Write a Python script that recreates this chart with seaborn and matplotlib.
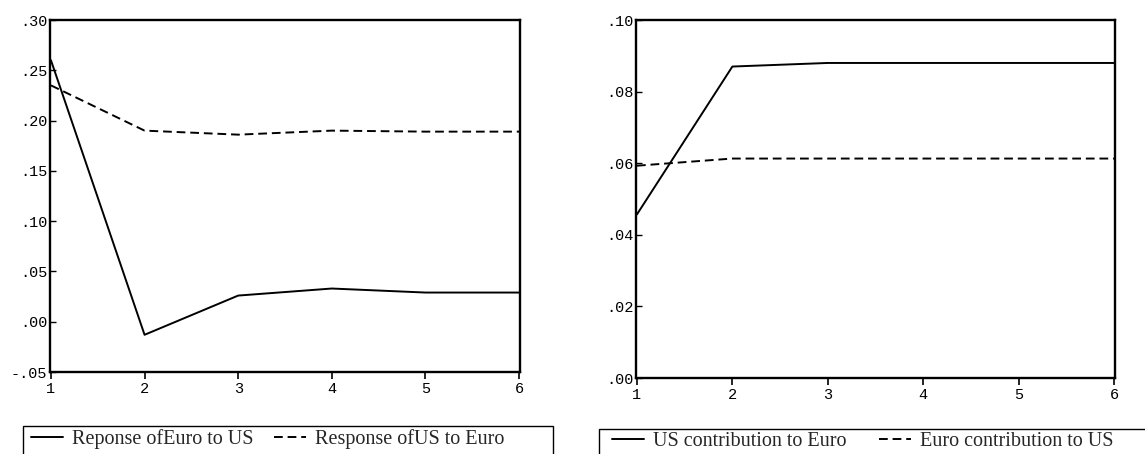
import numpy as np
import pandas as pd
import seaborn as sns
import matplotlib.pyplot as plt
from matplotlib.patches import Rectangle

periods = [1, 2, 3, 4, 5, 6]
euro_to_us = [0.260, -0.013, 0.026, 0.033, 0.029, 0.029]
us_to_euro = [0.235, 0.190, 0.186, 0.190, 0.189, 0.189]
us_contrib_euro = [0.0457, 0.0870, 0.0880, 0.0880, 0.0880, 0.0880]
euro_contrib_us = [0.0593, 0.0613, 0.0613, 0.0613, 0.0613, 0.0613]

left_labels = ['Reponse ofEuro to US', 'Response ofUS to Euro']
right_labels = ['US contribution to Euro', 'Euro contribution to US']
left_yticks = [-0.05, 0.0, 0.05, 0.10, 0.15, 0.20, 0.25, 0.30]
left_yticklabels = ['-.05', '.00', '.05', '.10', '.15', '.20', '.25', '.30']
right_yticks = [0.0, 0.02, 0.04, 0.06, 0.08, 0.10]
right_yticklabels = ['.00', '.02', '.04', '.06', '.08', '.10']

sns.set_style('white')
plt.rcParams['font.family'] = ['Liberation Mono', 'DejaVu Sans']

W, H = 1145, 454
fig = plt.figure(figsize=(W / 100, H / 100), dpi=100)
ax1 = fig.add_axes([50 / W, 82 / H, 470 / W, 352 / H])
ax2 = fig.add_axes([636 / W, 76 / H, 479 / W, 358 / H])

DASH = (4.5, 2.5)


def draw_panel(ax, s1, s2, labels, yticks, yticklabels, ylim, box, anchor, colspace):
    df = pd.DataFrame({'period': periods, 'a': s1, 'b': s2})
    sns.lineplot(data=df, x='period', y='a', ax=ax, color='black', lw=1.4, label=labels[0])
    sns.lineplot(data=df, x='period', y='b', ax=ax, color='black', lw=1.4, label=labels[1])
    ax.lines[1].set_dashes(DASH)
    ax.set_xlim(0.99, 6.01)
    ax.set_ylim(*ylim)
    ax.set_xticks(periods)
    ax.set_xticklabels([str(p) for p in periods])
    ax.set_yticks(yticks)
    ax.set_yticklabels(yticklabels)
    ax.set_xlabel('')
    ax.set_ylabel('')
    for s in ax.spines.values():
        s.set_visible(True)
        s.set_color('black')
        s.set_linewidth(1.7)
    ax.tick_params(axis='x', direction='out', length=5, width=1.2, pad=2,
                   labelsize=11, bottom=True, colors='black')
    ax.tick_params(axis='y', direction='in', length=4, width=1.0, pad=2,
                   labelsize=11, left=True, colors='black')
    ax.get_legend().remove()
    handles = ax.get_lines()[:2]
    # legend box drawn as a plain rectangle, cut off by the figure bottom
    x0, top, x1 = box
    fig.patches.append(Rectangle((x0 / W, -0.2), (x1 - x0) / W, 0.2 + (H - top) / H,
                                 transform=fig.transFigure, fill=False,
                                 edgecolor='black', lw=1.0))
    fig.legend(handles, labels, loc='upper left', bbox_to_anchor=anchor,
               ncol=2, frameon=False, borderaxespad=0, borderpad=0,
               handlelength=1.6, handletextpad=0.45, columnspacing=colspace,
               prop={'family': 'Liberation Serif', 'size': 14.5})


draw_panel(ax1, euro_to_us, us_to_euro, left_labels, left_yticks, left_yticklabels,
           (-0.05, 0.30), (23, 426, 553), (31 / W, (H - 429) / H), 1.0)
draw_panel(ax2, us_contrib_euro, euro_contrib_us, right_labels, right_yticks, right_yticklabels,
           (0.0, 0.10), (599, 429, 1160), (612 / W, (H - 432) / H), 1.6)

fig.savefig('out.png', dpi=100)
